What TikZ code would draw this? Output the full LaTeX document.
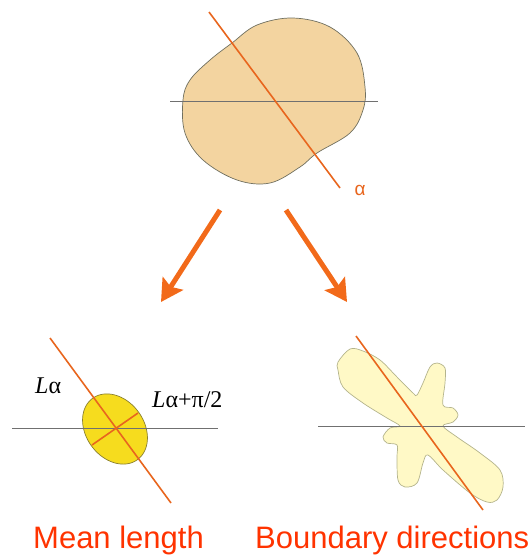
\documentclass[tikz,border=0pt]{standalone}
\usepackage{fontspec}
\setmainfont{Liberation Serif}
\newfontfamily\arial{Liberation Sans}
\usetikzlibrary{arrows.meta}
\definecolor{blobfill}{HTML}{F3D4A0}
\definecolor{blobline}{HTML}{707060}
\definecolor{orangeline}{HTML}{E8661E}
\definecolor{arrowor}{HTML}{F26A1A}
\definecolor{ellfill}{HTML}{F6DC1E}
\definecolor{ellline}{HTML}{8A8030}
\definecolor{starfill}{HTML}{FFF9C6}
\definecolor{starline}{HTML}{B4B48C}
\definecolor{hline}{HTML}{707070}
\definecolor{redtext}{HTML}{FF3300}
\tikzset{
  axisline/.style={draw=hline, line width=0.8pt},
  dirline/.style={draw=orangeline, line width=1.6pt},
  bigarrow/.style={draw=arrowor, line width=5pt, -{Stealth[length=22pt,width=24pt,inset=4pt]}},
  caption/.style={font=\arial\fontsize{31}{31}\selectfont, text=redtext, inner sep=0pt, anchor=base west},
  lab/.style={font=\fontsize{24}{24}\selectfont, inner sep=0pt, anchor=base west},
}
\begin{document}
\begin{tikzpicture}[x=1pt,y=-1pt]
\useasboundingbox (0,0) rectangle (529,555);
% top blob
\draw[fill=blobfill, draw=blobline, line width=0.7pt] plot[smooth cycle, tension=0.6] coordinates {
 (232,43) (257,25) (293,18) (330,27) (357,53) (365,87) (363,110) (350,133) (317,153)
 (300,167) (270,183) (237,180) (203,160) (185,133) (183,100) (190,80) (210,60)};
\coordinate (h1a) at (170,101); \coordinate (h1b) at (378,101);
\draw[axisline] (h1a) -- (h1b);
\coordinate (o1a) at (209,12); \coordinate (o1b) at (340,188);
\draw[dirline] (o1a) -- (o1b);
\node[font=\arial\fontsize{19}{19}\selectfont, text=orangeline, inner sep=0pt] (alpha) at (360,190) {α};
% arrows
\coordinate (a1s) at (220,210); \coordinate (a1e) at (161,302);
\coordinate (a2s) at (286,210); \coordinate (a2e) at (347,302);
\draw[bigarrow] (a1s) -- (a1e);
\draw[bigarrow] (a2s) -- (a2e);
% bottom left ellipse (major axis along the orange line)
\draw[fill=ellfill, draw=ellline, line width=0.7pt] plot[domain=0:360, samples=90, smooth cycle]
  ({115+38*cos(\x)*0.592-29*sin(\x)*0.806},{429+38*cos(\x)*0.806+29*sin(\x)*0.592});
\coordinate (h2a) at (12,428); \coordinate (h2b) at (218,428);
\draw[axisline] (h2a) -- (h2b);
\coordinate (o2a) at (50,338); \coordinate (o2b) at (171,503);
\draw[dirline] (o2a) -- (o2b);
\coordinate (p2a) at (92,445); \coordinate (p2b) at (138,413);
\draw[dirline] (p2a) -- (p2b);
\node[lab] (la) at (35,393) {\textit{L}α};
\node[lab] (lb) at (152,407) {\textit{L}α+π/2};
% bottom right star
\draw[fill=starfill, draw=starline, line width=0.7pt] plot[smooth cycle, tension=0.55] coordinates {
 (338,362) (350,349) (363,351) (380,360) (397,377) (413,393) (417,395)
 (423,383) (430,367) (437,363) (445,368) (445,383) (443,405) (453,408) (458,415) (453,422) (443,426)
 (457,437) (480,453) (500,470) (503,487) (497,500) (487,502) (470,493) (443,470) (428,455)
 (423,463) (417,483) (405,487) (398,480) (397,457) (397,445) (387,443) (383,437) (390,428) (400,426)
 (387,418) (363,403) (343,387) (338,370)};
\coordinate (h3a) at (318,426); \coordinate (h3b) at (525,426);
\draw[axisline] (h3a) -- (h3b);
\coordinate (o3a) at (356,336); \coordinate (o3b) at (483,510);
\draw[dirline] (o3a) -- (o3b);
% captions
\node[caption] (c1) at (33,548) {Mean length};
\node[caption] (c2) at (255,548) {Boundary directions};
\end{tikzpicture}
\end{document}
